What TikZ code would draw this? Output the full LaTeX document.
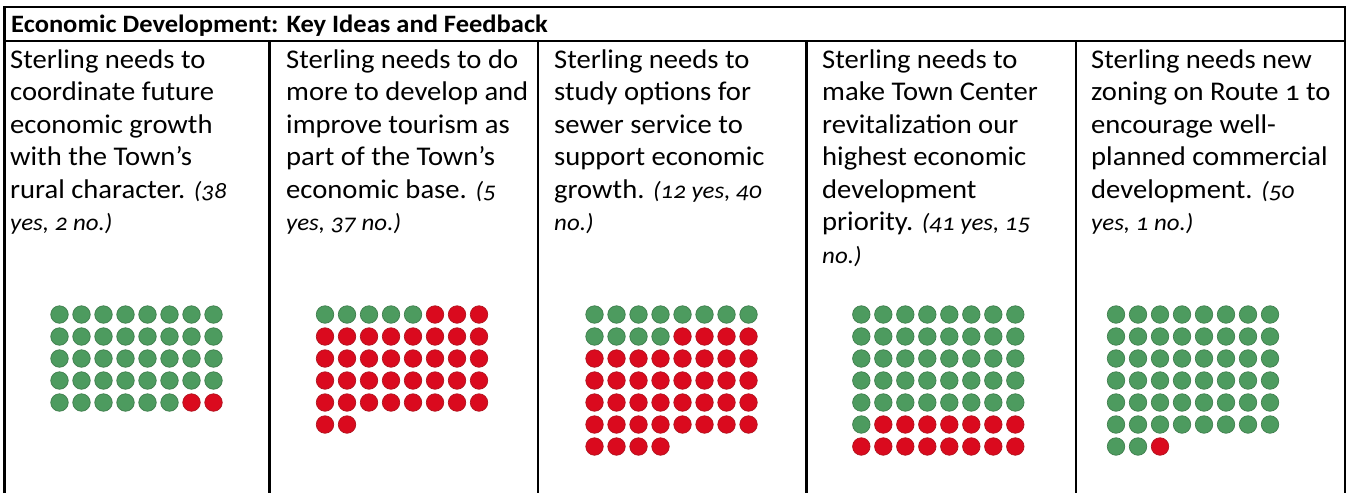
\documentclass[tikz,border=0pt]{standalone}
\usepackage{fontspec}
\setmainfont{Carlito}[FakeStretch=1.06,Numbers=OldStyle]
\definecolor{yesFill}{HTML}{4D9B5F}
\definecolor{yesEdge}{HTML}{3F7D4D}
\definecolor{noFill}{HTML}{DA0A1E}
\definecolor{noEdge}{HTML}{B0141F}
\newcommand\votes[1]{{\itshape\fontsize{23.5}{32.5}\selectfont #1}}

\begin{document}
\begin{tikzpicture}
[x=1pt,y=-1pt,
  gridLine/.style={line width=2.5pt},%
  headText/.style={anchor=base west,inner sep=0pt,font=\bfseries\fontsize{25}{30}\selectfont},%
  cellText/.style={anchor=north west,inner sep=0pt,align=left,font=\fontsize{27}{32.5}\selectfont},%
  dotDecorate/.style={shape=circle,minimum size=17.5pt,inner sep=0pt,line width=0.7pt}]
\useasboundingbox (0,0) rectangle (1348,493);
%% table frame
\draw[gridLine] (4.5,493) -- (4.5,7) -- (1345,7) -- (1345,493);
\draw[gridLine] (4.5,41) -- (1345,41);
\foreach \x in {269.5,538,806.5,1076}
{
  \draw[gridLine] (\x,41) -- (\x,493);
}
%% header and ideas
\node (header) [headText] at (11,32) {Economic Development: Key Ideas and Feedback};
\node (idea1) [cellText] at (10,49.5) {Sterling needs to\\coordinate future\\economic growth\\with the Town’s\\rural character. \votes{(38}\\\votes{yes, 2 no.)}};
\node (idea2) [cellText] at (286,49.5) {Sterling needs to do\\more to develop and\\improve tourism as\\part of the Town’s\\economic base. \votes{(5}\\\votes{yes, 37 no.)}};
\node (idea3) [cellText] at (554,49.5) {Sterling needs to\\study options for\\sewer service to\\support economic\\growth. \votes{(12 yes, 40}\\\votes{no.)}};
\node (idea4) [cellText] at (822,49.5) {Sterling needs to\\make Town Center\\revitalization our\\highest economic\\development\\priority. \votes{(41 yes, 15}\\\votes{no.)}};
\node (idea5) [cellText] at (1091,49.5) {Sterling needs new\\zoning on Route 1 to\\encourage well-\\planned commercial\\development. \votes{(50}\\\votes{yes, 1 no.)}};
%% dots, eight to a row, yes first
\foreach \col/\x/\yes/\total in {
  1/59.5/38/40, 2/325/5/42, 3/594.5/12/52, 4/861.3/41/56, 5/1116/50/51}
{
  \foreach \k in {1,...,\total}
  {
    \pgfmathtruncatemacro\row{(\k-1)/8}
    \pgfmathtruncatemacro\pos{mod(\k-1,8)}
    \ifnum\k>\yes \def\dotfill{noFill}\def\dotedge{noEdge}\else\def\dotfill{yesFill}\def\dotedge{yesEdge}\fi
    \node (dot\col-\k) [dotDecorate,fill=\dotfill,draw=\dotedge] at ({\x+22*\pos},{314.5+22*\row}) {};
  }
}
\end{tikzpicture}
\end{document}
